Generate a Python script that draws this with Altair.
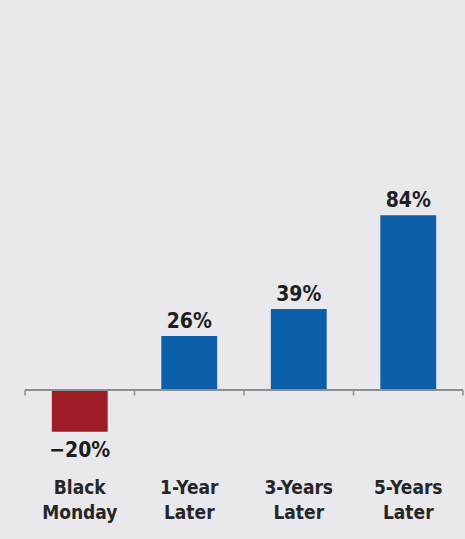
import altair as alt
import pandas as pd

categories = ["Black Monday", "1-Year Later", "3-Years Later", "5-Years Later"]
values = [-20, 26, 39, 84]
colors = ["#9d1c25", "#0b5ea8", "#0b5ea8", "#0b5ea8"]

df = pd.DataFrame({"cat": categories, "value": values, "color": colors})

FONT = "Liberation Sans Narrow, Arial Narrow, DejaVu Sans Condensed, Liberation Sans, Arial"
BG = "#e9e8ec"
STEP = 438 / 4

x_axis = alt.Axis(
    title=None,
    orient="bottom",
    domain=False,
    ticks=False,
    labelAngle=0,
    labelExpr="split(datum.label, ' ')",
    labelFont=FONT,
    labelFontSize=19,
    labelFontWeight="bold",
    labelColor="#262626",
    labelPadding=13,
    labelLineHeight=25,
    labelBaseline="top",
)
x_scale = alt.Scale(paddingInner=0, paddingOuter=0)
x_enc = alt.X("cat:N", sort=categories, scale=x_scale, axis=x_axis)
x_plain = alt.X("cat:N", sort=categories, axis=x_axis)
y_scale = alt.Scale(domain=[-36, 184.6], nice=False, zero=False)
y_enc = alt.Y("value:Q", scale=y_scale, axis=None)
y_zero = alt.YDatum(0, scale=y_scale, axis=None)

base = alt.Chart(df)

bars = base.mark_bar(width=alt.RelativeBandSize(0.51)).encode(
    x=x_enc,
    y=y_enc,
    y2=alt.datum(0),
    color=alt.Color("color:N", scale=None, legend=None),
)

zero_line = base.mark_rule(color="#8e8e90", strokeWidth=1.5).encode(
    y=y_zero,
)

ticks_start = base.mark_rule(color="#8e8e90", strokeWidth=1.5, xOffset=-STEP / 2).encode(
    x=x_plain,
    y=y_zero,
    y2=alt.datum(-2.6),
)
ticks_end = base.transform_filter(
    alt.datum.cat == categories[-1]
).mark_rule(color="#8e8e90", strokeWidth=1.5, xOffset=STEP / 2).encode(
    x=x_plain,
    y=y_zero,
    y2=alt.datum(-2.6),
)

label_style = dict(font=FONT, fontSize=21, fontWeight="bold", color="#1e1e1e")

pos_labels = base.transform_filter("datum.value >= 0").transform_calculate(
    label="format(datum.value, 'd') + '%'"
).mark_text(baseline="bottom", dy=-4, **label_style).encode(
    x=x_plain,
    y=y_enc,
    text="label:N",
)

neg_labels = base.transform_filter("datum.value < 0").transform_calculate(
    label="format(datum.value, 'd') + '%'"
).mark_text(baseline="top", dy=8, **label_style).encode(
    x=x_plain,
    y=y_enc,
    text="label:N",
)

chart = alt.layer(bars, zero_line, ticks_start, ticks_end, pos_labels, neg_labels).properties(
    width=438,
    height=459,
    padding={"left": 25, "top": 6, "right": 2, "bottom": 74},
    autosize=alt.AutoSizeParams(type="none"),
    background=BG,
).configure_view(stroke=None)

chart.save("out.html", embed_options={"renderer": "svg", "actions": False})
